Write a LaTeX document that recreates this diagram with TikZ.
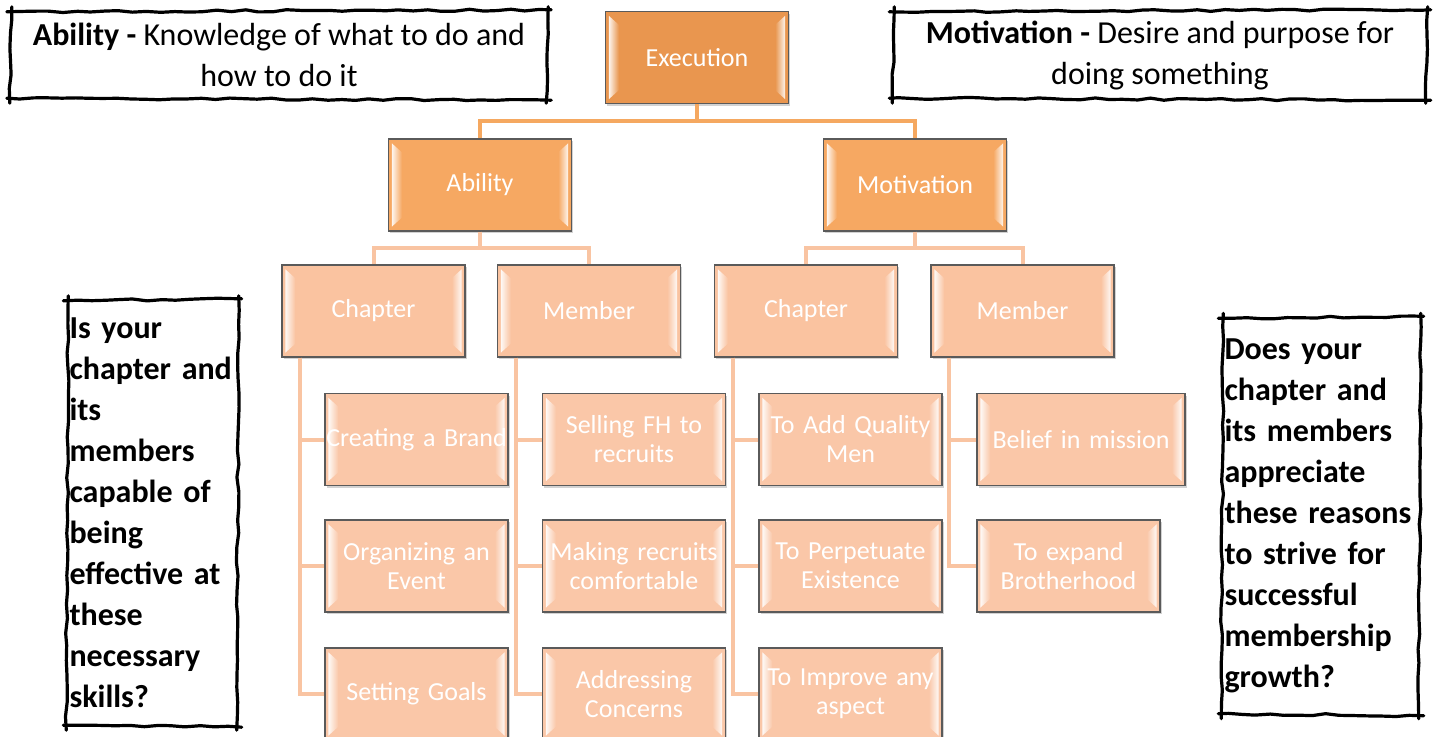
\documentclass[tikz,border=0pt]{standalone}
\usepackage{fontspec}
\setmainfont{Carlito}
\usetikzlibrary{calc,shadows,fadings,decorations.pathmorphing}

\definecolor{topc}{HTML}{E9964F}
\definecolor{midc}{HTML}{F6A862}
\definecolor{lowc}{HTML}{FAC3A0}
\definecolor{leafc}{HTML}{FAC7A8}
\definecolor{linetop}{HTML}{F5A860}
\definecolor{linelow}{HTML}{F9C4A2}
\definecolor{rimc}{HTML}{5A5A5A}

\tikzset{
  orgbox/.style={draw=rimc, line width=1.3pt, minimum height=92pt, minimum width=183pt,
    text width=176pt, text=white, align=center, inner sep=2pt,
    drop shadow={opacity=.35, shadow xshift=1.5pt, shadow yshift=-2pt},
    font=\fontsize{26}{29}\selectfont},
  toplink/.style={draw=linetop, line width=4.5pt},
  lowlink/.style={draw=linelow, line width=4pt},
  callout/.style={inner sep=0pt, align=center, text=black},
  sketch/.style={draw=black, line width=3.2pt, line cap=round,
    decorate, decoration={random steps, segment length=14pt, amplitude=1.1pt}},
}

% light bevel strips on both sides of a box
\newcommand\bevel[1]{%
  \fill[white, opacity=.9, path fading=east]
    ($(#1.north west)+(4,5)$) -- ($(#1.north west)+(14,14)$) --
    ($(#1.south west)+(14,-14)$) -- ($(#1.south west)+(4,-5)$) -- cycle;
  \fill[white, opacity=.9, path fading=west]
    ($(#1.north east)+(-4,5)$) -- ($(#1.north east)+(-14,14)$) --
    ($(#1.south east)+(-14,-14)$) -- ($(#1.south east)+(-4,-5)$) -- cycle;
}

% hand-drawn frame around a node
\newcommand\roughframe[1]{%
  \draw[sketch] ($(#1.north west)+(-4,1)$) -- ($(#1.north east)+(4,-1)$);
  \draw[sketch] ($(#1.north east)+(1,-4)$) -- ($(#1.south east)+(-1,4)$);
  \draw[sketch] ($(#1.south east)+(4,1)$) -- ($(#1.south west)+(-4,-1)$);
  \draw[sketch] ($(#1.south west)+(-1,4)$) -- ($(#1.north west)+(1,-4)$);
}

\begin{document}
\begin{tikzpicture}[x=1pt, y=-1pt]
\useasboundingbox (0,0) rectangle (1437,736);
\clip (0,0) rectangle (1437,736);
\fill[white] (0,0) rectangle (1437,736);

% ---- tree boxes
\node[orgbox, fill=topc] (exe) at (697,57.5) {Execution};
\node[orgbox, fill=midc] (abi) at (480,185) {Ability};
\node[orgbox, fill=midc] (mot) at (915,185) {Motivation};

\node[orgbox, fill=lowc] (chA) at (373.5,311) {Chapter};
\node[orgbox, fill=lowc] (meA) at (589,311) {Member};
\node[orgbox, fill=lowc] (chM) at (806,311) {Chapter};
\node[orgbox, fill=lowc] (meM) at (1022.5,311) {Member};

% ---- connectors
\draw[toplink] (exe.south) -- ++(0,17) -| (abi.north);
\draw[toplink] (exe.south) -- ++(0,17) -| (mot.north);
\draw[lowlink] (abi.south) -- ++(0,16) -| (chA.north);
\draw[lowlink] (abi.south) -- ++(0,16) -| (meA.north);
\draw[lowlink] (mot.south) -- ++(0,16) -| (chM.north);
\draw[lowlink] (mot.south) -- ++(0,16) -| (meM.north);

% ---- leaf boxes
\node[orgbox, fill=leafc] (l1) at (416.5,439.5) {\makebox[176pt][c]{Creating a Brand}};
\node[orgbox, fill=leafc] (l2) at (416.5,566) {Organizing an\\Event};
\node[orgbox, fill=leafc] (l3) at (416.5,694) {Setting Goals};

\node[orgbox, fill=leafc] (m1) at (634,439.5) {Selling FH to\\recruits};
\node[orgbox, fill=leafc] (m2) at (634,566) {\makebox[176pt][c]{Making recruits}\\comfortable};
\node[orgbox, fill=leafc] (m3) at (634,694) {Addressing\\Concerns};

\node[orgbox, fill=leafc] (c1) at (850.5,439.5) {\makebox[176pt][c]{To Add Quality}\\Men};
\node[orgbox, fill=leafc] (c2) at (850.5,566) {To Perpetuate\\Existence};
\node[orgbox, fill=leafc] (c3) at (850.5,694) {\makebox[176pt][c]{To Improve any}\\aspect};

\node[orgbox, fill=leafc, minimum width=208pt, text width=200pt] (b1) at (1081,439.5) {Belief in mission};
\node[orgbox, fill=leafc] (b2) at (1068.5,566) {To expand\\Brotherhood};

\foreach \p/\k in {chA/l1,chA/l2,chA/l3,meA/m1,meA/m2,meA/m3,chM/c1,chM/c2,chM/c3,meM/b1,meM/b2}
  \draw[lowlink] ($(\p.south west)+(19,0)$) |- (\k.west);

% bevel highlights on every box
\foreach \n in {exe,abi,mot,chA,meA,chM,meM,l1,l2,l3,m1,m2,m3,c1,c2,c3,b1,b2}
  {\bevel{\n}}

% ---- callouts
\node[callout, minimum width=536pt, minimum height=88pt,
      font=\fontsize{32}{41}\selectfont] (defA) at (279,55)
  {\textbf{Ability -} Knowledge of what to do and\\how to do it};
\roughframe{defA}

\node[callout, minimum width=533pt, minimum height=88pt,
      font=\fontsize{32}{41}\selectfont] (defM) at (1160,55)
  {\textbf{Motivation -} Desire and purpose for\\doing something};
\roughframe{defM}

\node[callout, align=left, minimum width=170pt, minimum height=426pt, text width=166pt,
      font=\bfseries\fontsize{32}{41}\selectfont] (qA) at (152.5,513)
  {Is your\\chapter and\\its\\members\\capable of\\being\\effective at\\these\\necessary\\skills?};
\roughframe{qA}

\node[callout, align=left, minimum width=197pt, minimum height=397pt, text width=193pt,
      font=\bfseries\fontsize{32}{41}\selectfont] (qM) at (1321,516)
  {Does your\\chapter and\\its members\\appreciate\\these reasons\\to strive for\\successful\\membership\\growth?};
\roughframe{qM}
\end{tikzpicture}
\end{document}
